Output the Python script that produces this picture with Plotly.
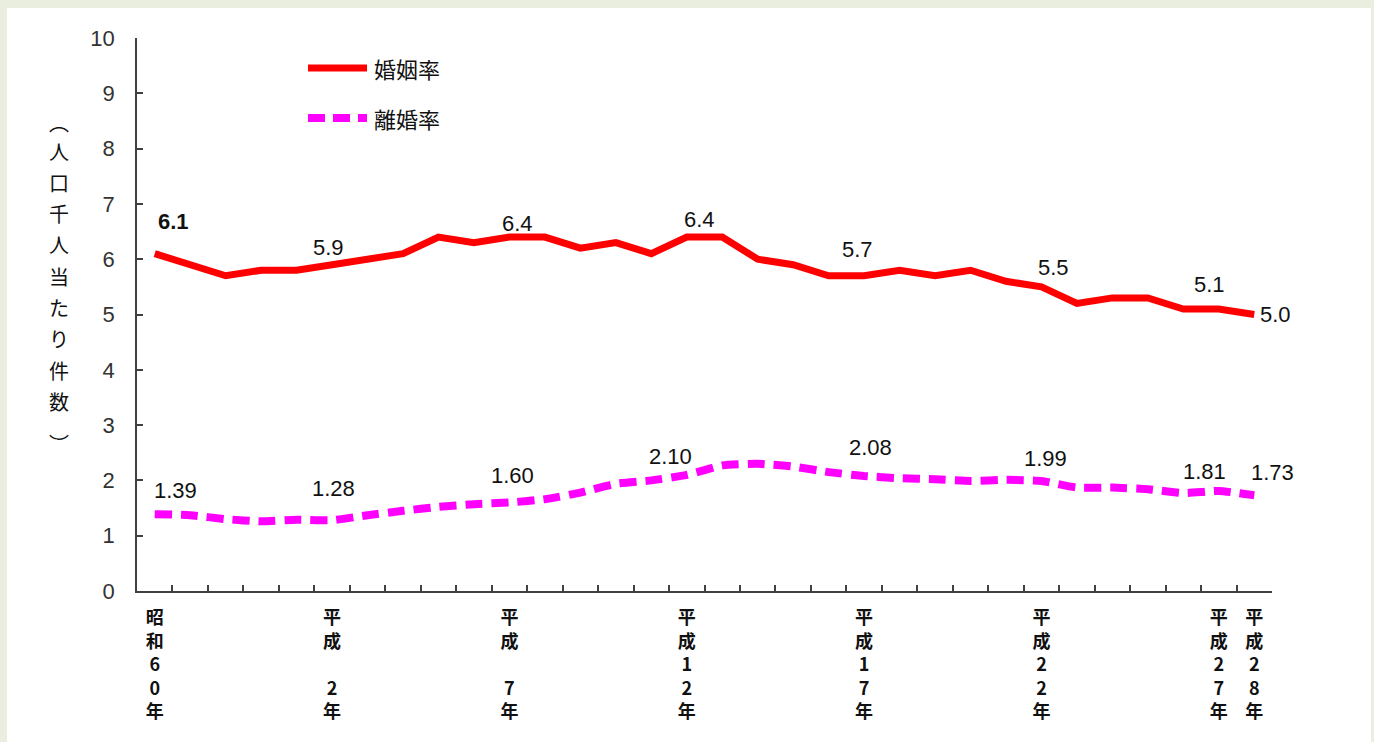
import plotly.graph_objects as go

# 年次（昭和60年〜平成28年）
years = ["昭和60年", "昭和61年", "昭和62年", "昭和63年"] + [f"平成{i}年" for i in range(1, 29)]

# 婚姻率・離婚率（人口千人当たり）
marriage_rate = [6.1, 5.9, 5.7, 5.8, 5.8, 5.9, 6.0, 6.1, 6.4, 6.3, 6.4, 6.4, 6.2, 6.3, 6.1, 6.4,
                 6.4, 6.0, 5.9, 5.7, 5.7, 5.8, 5.7, 5.8, 5.6, 5.5, 5.2, 5.3, 5.3, 5.1, 5.1, 5.0]
divorce_rate = [1.39, 1.37, 1.30, 1.26, 1.29, 1.28, 1.37, 1.45, 1.52, 1.57, 1.60, 1.66, 1.78, 1.94, 2.00, 2.10,
                2.27, 2.30, 2.25, 2.15, 2.08, 2.04, 2.02, 1.99, 2.01, 1.99, 1.87, 1.87, 1.84, 1.77, 1.81, 1.73]

# 目盛ラベルを付ける年次（縦書き）
tick_labels = {
    "昭和60年": "昭<br>和<br>6<br>0<br>年",
    "平成2年": "平<br>成<br> <br>2<br>年",
    "平成7年": "平<br>成<br> <br>7<br>年",
    "平成12年": "平<br>成<br>1<br>2<br>年",
    "平成17年": "平<br>成<br>1<br>7<br>年",
    "平成22年": "平<br>成<br>2<br>2<br>年",
    "平成27年": "平<br>成<br>2<br>7<br>年",
    "平成28年": "平<br>成<br>2<br>8<br>年",
}

# 値ラベルを付ける年次
labelled_years = ["昭和60年", "平成2年", "平成7年", "平成12年", "平成17年", "平成22年", "平成27年", "平成28年"]

# 値ラベルの表示位置の調整（px）
marriage_offsets = {"昭和60年": (19, 32), "平成2年": (-4, 17), "平成7年": (8, 14), "平成12年": (13, 18),
                    "平成17年": (-7, 26), "平成22年": (12, 19), "平成27年": (-9, 24), "平成28年": (21, 0)}
divorce_offsets = {"昭和60年": (21, 24), "平成2年": (1, 32), "平成7年": (3, 27), "平成12年": (-16, 18),
                   "平成17年": (6, 28), "平成22年": (4, 22), "平成27年": (-14, 19), "平成28年": (18, 23)}

JP = "Noto Sans CJK JP"
NUM = "Liberation Sans, Arial, sans-serif"
AXIS = "#404040"

fig = go.Figure()
fig.add_trace(go.Scatter(
    x=years, y=marriage_rate, mode="lines", name="婚姻率",
    line=dict(color="#FF0000", width=7),
))
fig.add_trace(go.Scatter(
    x=years, y=divorce_rate, mode="lines", name="離婚率",
    line=dict(color="#FF00FF", width=8, dash="17px,9px", shape="spline", smoothing=0.5),
))

annotations = []
for yr in labelled_years:
    i = years.index(yr)
    dx, dy = marriage_offsets[yr]
    annotations.append(dict(
        x=yr, y=marriage_rate[i], xref="x", yref="y", text=f"{marriage_rate[i]:.1f}",
        showarrow=False, xshift=dx, yshift=dy,
        font=dict(family=NUM, size=22, color="#111111", weight="bold" if i == 0 else "normal"),
    ))
    dx, dy = divorce_offsets[yr]
    annotations.append(dict(
        x=yr, y=divorce_rate[i], xref="x", yref="y", text=f"{divorce_rate[i]:.2f}",
        showarrow=False, xshift=dx, yshift=dy,
        font=dict(family=NUM, size=22, color="#111111"),
    ))

# 縦書きの縦軸タイトル
PLOT_L, PLOT_T, PLOT_W, PLOT_H = 137, 38, 1135, 553


def px_x(px):
    return (px - PLOT_L) / PLOT_W


def px_y(py):
    return (PLOT_T + PLOT_H - py) / PLOT_H


title_font = dict(family=JP, size=20, color="#111111")
title_chars = ["人", "口", "千", "人", "当", "た", "り", "件", "数"]
for k, ch in enumerate(title_chars):
    annotations.append(dict(
        x=px_x(59), y=px_y(151 + k * 31.3), xref="paper", yref="paper", text=ch,
        showarrow=False, xanchor="center", yanchor="middle", font=title_font,
    ))
annotations.append(dict(x=px_x(59), y=px_y(122), xref="paper", yref="paper", text="︵",
                        showarrow=False, xanchor="center", yanchor="middle", font=title_font))
annotations.append(dict(x=px_x(59), y=px_y(431), xref="paper", yref="paper", text="︶",
                        showarrow=False, xanchor="center", yanchor="top", yshift=4, font=title_font))

# 凡例
for name, py in (("婚姻率", 68), ("離婚率", 118)):
    annotations.append(dict(
        x=px_x(372), y=px_y(py), xref="paper", yref="paper", text=name,
        showarrow=False, xanchor="left", yanchor="middle",
        font=dict(family=JP, size=22, color="#111111"),
    ))

shapes = [
    # 白い台紙
    dict(type="rect", xref="paper", yref="paper", x0=px_x(7), x1=px_x(1371), y0=px_y(760), y1=px_y(8),
         fillcolor="white", line=dict(width=0), layer="below"),
    dict(type="line", xref="paper", yref="paper", x0=px_x(308), x1=px_x(367), y0=px_y(68), y1=px_y(68),
         line=dict(color="#FF0000", width=7)),
    dict(type="line", xref="paper", yref="paper", x0=px_x(308), x1=px_x(367), y0=px_y(118), y1=px_y(118),
         line=dict(color="#FF00FF", width=8, dash="17px,8px")),
]

fig.update_layout(
    width=1374, height=742,
    margin=dict(l=PLOT_L, r=1374 - PLOT_L - PLOT_W, t=PLOT_T, b=742 - PLOT_T - PLOT_H),
    paper_bgcolor="#EAEEDF",
    plot_bgcolor="white",
    showlegend=False,
    annotations=annotations,
    shapes=shapes,
    xaxis=dict(
        type="category", range=[-0.5, len(years) - 0.5],
        tickmode="array", tickvals=years,
        ticktext=[tick_labels.get(y, "") for y in years],
        tickson="boundaries", ticks="inside", ticklen=6, tickwidth=1.5, tickcolor=AXIS,
        showline=True, linecolor=AXIS, linewidth=1.5, showgrid=False, zeroline=False,
        tickfont=dict(family=JP, size=18, color="#111111", weight="bold"),
        ticklabelstandoff=10,
    ),
    yaxis=dict(
        range=[0, 10], tickmode="linear", tick0=0, dtick=1,
        ticks="inside", ticklen=6, tickwidth=1.5, tickcolor=AXIS,
        showline=True, linecolor=AXIS, linewidth=1.5, showgrid=False, zeroline=False,
        tickfont=dict(family=NUM, size=22, color="#333333"),
        ticklabelstandoff=16,
    ),
)

fig.write_html("out.html")
